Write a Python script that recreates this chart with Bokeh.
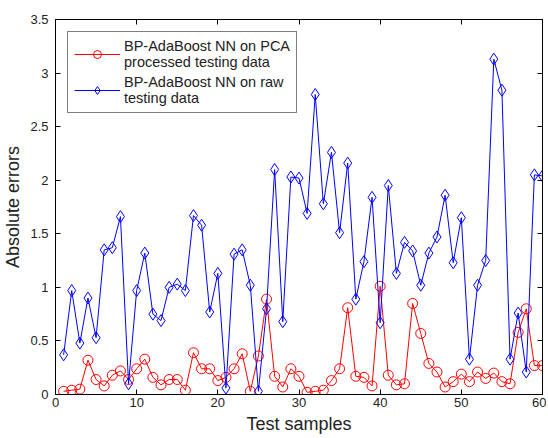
from bokeh.plotting import figure
from bokeh.models import (LinearAxis, Range1d, FixedTicker, CustomJSTickFormatter,
                          Legend, LegendItem, CustomLabelingPolicy)
from bokeh.embed import file_html
from bokeh.resources import INLINE

samples = list(range(1, 61))

pca_errors = [0.03, 0.04, 0.05, 0.32, 0.14, 0.08, 0.18, 0.22, 0.14, 0.24,
              0.33, 0.16, 0.09, 0.14, 0.14, 0.04, 0.39, 0.24, 0.24, 0.13,
              0.16, 0.24, 0.38, 0.03, 0.36, 0.89, 0.17, 0.07, 0.24, 0.17,
              0.02, 0.03, 0.04, 0.13, 0.24, 0.81, 0.17, 0.16, 0.08, 1.01,
              0.18, 0.09, 0.10, 0.85, 0.57, 0.29, 0.21, 0.07, 0.12, 0.19,
              0.12, 0.21, 0.15, 0.20, 0.12, 0.10, 0.58, 0.80, 0.27, 0.27]

raw_errors = [0.37, 0.97, 0.48, 0.90, 0.53, 1.35, 1.37, 1.66, 0.10, 0.97,
              1.32, 0.75, 0.69, 1.00, 1.03, 0.97, 1.67, 1.58, 0.77, 1.13,
              0.06, 1.31, 1.35, 1.02, 0.03, 0.80, 2.10, 0.68, 2.03, 2.02,
              1.69, 2.80, 1.78, 2.26, 1.51, 2.16, 0.89, 1.24, 1.84, 0.67,
              1.95, 1.13, 1.42, 1.34, 1.02, 1.32, 1.47, 1.86, 1.23, 1.65,
              0.33, 1.02, 1.25, 3.13, 2.84, 0.33, 0.76, 0.21, 2.05, 2.04]

x_ticks = [0, 10, 20, 30, 40, 50, 60]
y_ticks = [0, 0.5, 1, 1.5, 2, 2.5, 3, 3.5]

label_pca = "BP-AdaBoost NN on PCA\nprocessed testing data"
label_raw = "BP-AdaBoost NN on raw\ntesting data"

FONT = "Liberation Sans"

p = figure(width=546, height=436, output_backend="svg", toolbar_location=None,
           x_range=Range1d(0, 60), y_range=Range1d(0, 3.5),
           min_border_left=54, min_border_right=4, min_border_top=19,
           min_border_bottom=41, background_fill_color="white",
           border_fill_color="white")
p.grid.visible = False
p.outline_line_color = "black"
p.outline_line_width = 1

fmt = CustomJSTickFormatter(code="return tick.toString();")
no_labels = CustomLabelingPolicy(
    code="for (const i of Array.from(indices)) { indices.unset(i) } return indices;")

def style_axis(ax, labels=True):
    ax.major_tick_in = 5
    ax.major_tick_out = 0
    ax.minor_tick_in = 0
    ax.minor_tick_out = 0
    ax.axis_line_color = "black"
    ax.major_tick_line_color = "black"
    ax.major_label_text_font = FONT
    ax.major_label_text_color = "#222222"
    ax.axis_label_text_font = FONT
    ax.axis_label_text_font_style = "normal"
    ax.axis_label_text_color = "#222222"
    ax.axis_label_text_font_size = "18px"
    if labels:
        ax.major_label_text_font_size = "13px"
        ax.axis_label_standoff = 4
    else:
        ax.major_label_text_font_size = "1px"
        ax.major_label_standoff = 0
        ax.axis_label_standoff = 0
        ax.major_label_policy = no_labels

p.xaxis[0].ticker = FixedTicker(ticks=x_ticks)
p.yaxis[0].ticker = FixedTicker(ticks=y_ticks)
p.xaxis[0].formatter = fmt
p.yaxis[0].formatter = fmt
p.xaxis[0].axis_label = "Test samples"
p.yaxis[0].axis_label = "Absolute errors"
style_axis(p.xaxis[0])
style_axis(p.yaxis[0])
p.xaxis[0].major_label_standoff = 3
p.yaxis[0].major_label_standoff = 7

top_ax = LinearAxis(ticker=FixedTicker(ticks=x_ticks), formatter=fmt)
right_ax = LinearAxis(ticker=FixedTicker(ticks=y_ticks), formatter=fmt)
style_axis(top_ax, labels=False)
style_axis(right_ax, labels=False)
p.add_layout(top_ax, "above")
p.add_layout(right_ax, "right")

red = "#FF0000"
blue = "#0000FF"

l1 = p.line(samples, pca_errors, line_color=red, line_width=1)
s1 = p.scatter(samples, pca_errors, marker="circle", size=10, fill_color=None,
               line_color=red, line_width=1)
l2 = p.line(samples, raw_errors, line_color=blue, line_width=1)
s2 = p.scatter(samples, raw_errors, marker="diamond", size=12, fill_color=None,
               line_color=blue, line_width=1)

legend = Legend(items=[LegendItem(label=label_pca, renderers=[l1, s1]),
                       LegendItem(label=label_raw, renderers=[l2, s2])],
                location="top_left")
legend.margin = 12
legend.padding = 6
legend.spacing = 4
legend.glyph_width = 46
legend.label_standoff = 4
legend.label_text_font = FONT
legend.label_text_font_size = "14.5px"
legend.label_text_color = "#222222"
legend.border_line_color = "black"
legend.border_line_width = 1
legend.background_fill_alpha = 1
p.add_layout(legend, "center")

open("out.html", "w").write(file_html(p, INLINE))
